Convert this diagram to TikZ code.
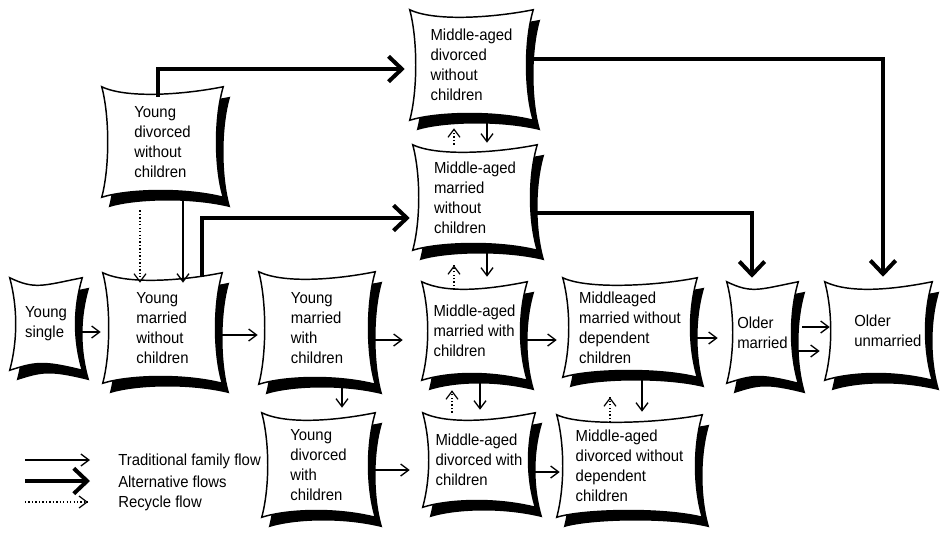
\documentclass[tikz,border=0pt]{standalone}
\usepackage{fontspec}
\setmainfont{Liberation Sans}[FakeStretch=0.93]
\usetikzlibrary{arrows.meta,calc,decorations.markings}
\pgfdeclarelayer{bg}
\pgfsetlayers{bg,main}
\newcommand{\pillowoutline}[1]{(#1.north west) .. controls +(25,12) and +(-40,8) .. (#1.north east) .. controls +(-9,30) and +(-9,-30) .. (#1.south east) .. controls +(-40,-10) and +(25,-8) .. (#1.south west) .. controls +(8,-30) and +(8,30) .. (#1.north west) -- cycle}
\newcommand{\pillow}[1]{%
  \fill[black, transform canvas={shift={(7,10)}}] \pillowoutline{#1};
  \draw[line width=1.1pt, fill=white] \pillowoutline{#1};
}
\tikzset{
  pbox/.style={rectangle, inner sep=0pt, align=left, font=\fontsize{12pt}{15pt}\selectfont},
  legtext/.style={anchor=west, inner sep=0pt, font=\fontsize{12pt}{15pt}\selectfont},
  trad/.style={line width=1pt, -{Straight Barb[length=6pt,width=9pt]}},
  recyc/.style={line width=0.9pt, dash pattern=on 1pt off 1.6pt,
    postaction={decorate, decoration={markings,
      mark=at position 1 with {\pgfsetdash{}{0pt}\arrow[line width=0.9pt]{Straight Barb[length=6pt,width=9pt]}}}}},
  alter/.style={line width=3pt, -{Straight Barb[length=10pt,width=19pt]}},
}
\begin{document}
\begin{tikzpicture}[x=0.75pt,y=-0.75pt]
\useasboundingbox (0,0) rectangle (942,533);
\begin{pgfonlayer}{bg}
\fill[white] (0,0) rectangle (942,533);
\end{pgfonlayer}

% nodes
\node[pbox, minimum width=90.75pt, minimum height=82.5pt] (YDW) at (162.5,142) {Young\\divorced\\without\\children};
\node[pbox, minimum width=54pt, minimum height=69pt] (YS) at (46,324) {Young\\single};
\node[pbox, minimum width=89.25pt, minimum height=82.5pt] (YMW) at (162.5,328) {Young\\married\\without\\children};
\node[pbox, minimum width=87pt, minimum height=84pt] (YMC) at (317,328) {Young\\married\\with\\children};
\node[pbox, minimum width=84.75pt, minimum height=78pt] (YDC) at (318.5,465) {Young\\divorced\\with\\children};
\node[pbox, minimum width=78.75pt, minimum height=73.5pt] (MMC) at (474.5,331) {Middle-aged\\married with\\children};
\node[pbox, minimum width=84pt, minimum height=70.5pt] (MDC) at (479,460) {Middle-aged\\divorced with\\children};
\node[pbox, minimum width=100.5pt, minimum height=74.25pt] (MMWD) at (630,327.5) {Middleaged\\married without\\dependent\\children};
\node[pbox, minimum width=108.75pt, minimum height=76.5pt] (MDWD) at (629.5,466) {Middle-aged\\divorced without\\dependent\\children};
\node[pbox, minimum width=53.25pt, minimum height=75.75pt] (OM) at (762.5,332.5) {Older\\married};
\node[pbox, minimum width=80.25pt, minimum height=73.5pt] (OU) at (878.5,331) {\hspace*{14pt}Older\\\hspace*{14pt}unmarried};
\node[pbox, minimum width=92.25pt, minimum height=82.5pt] (MDWO) at (471.5,65) {Middle-aged\\divorced\\without\\children};
\node[pbox, minimum width=93pt, minimum height=78.75pt] (MMWO) at (475,197.5) {Middle-aged\\married\\without\\children};

\begin{pgfonlayer}{bg}
\foreach \n in {YDW,YS,YMW,YMC,YDC,MMC,MDC,MMWD,MDWD,OM,OU,MDWO,MMWO}{\pillow{\n}}
\end{pgfonlayer}

% traditional flows
\draw[trad] ($(YS.east)+(0,8)$) -- ($(YMW.west)+(-2,4)$);
\draw[trad] ($(YMW.east)+(-3,7)$) -- ($(YMC.west)+(-1,7)$);
\draw[trad] ($(YMC.east)+(-4,12)$) -- ($(MMC.west)+(-19,9)$);
\draw[trad] ($(MMC.east)+(-5,9)$) -- ($(MMWD.west)+(-6,12.5)$);
\draw[trad] ($(MMWD.east)+(0,10.5)$) -- ($(OM.west)+(-9,5.5)$);
\draw[trad] ($(OM.east)+(4,-5.5)$) -- ($(OU.west)+(5,-4)$);
\draw[trad] ($(OM.east)+(-1,18.5)$) -- ($(OU.west)+(-5,20)$);
\draw[trad] ($(YMC.south)+(25,1)$) -- ($(YDC.north)+(23.5,-5)$);
\draw[trad] ($(YDC.east)+(0,5)$) -- ($(MDC.west)+(-13,10)$);
\draw[trad] ($(MDC.east)+(0,12)$) -- ($(MDWD.west)+(3,6)$);
\draw[trad] ($(MMC.south)+(5.5,0)$) -- ($(MDC.north)+(1,-3)$);
\draw[trad] ($(MMWD.south)+(12,3)$) -- ($(MDWD.north)+(12.5,-3)$);
\draw[trad] ($(MDWO.south)+(15.5,0)$) -- ($(MMWO.north)+(12,-2)$);
\draw[trad] ($(MMWO.south)+(12,0)$) -- ($(MMC.north)+(12.5,-5)$);
\draw[trad] ($(YDW.south)+(20.5,3)$) -- ($(YMW.north)+(20.5,10)$);

% recycle flows
\draw[recyc] ($(YDW.south)+(-22.5,13)$) -- ($(YMW.north)+(-22.5,10)$);
\draw[recyc] ($(MMWO.north)+(-21,0)$) -- ($(MDWO.south)+(-17.5,8)$);
\draw[recyc] ($(MMC.north)+(-20.5,8)$) -- ($(MMWO.south)+(-21,15)$);
\draw[recyc] ($(MDC.north)+(-27,0)$) -- ($(MMC.south)+(-22.5,10)$);
\draw[recyc] ($(MDWD.north)+(-19.5,8)$) -- ($(MMWD.south)+(-20,20)$);

% alternative flows
\draw[alter] ($(YDW.north)+(-4.5,10)$) |- ($(MDWO.west)+(-5,4)$);
\draw[alter] ($(YMW.north)+(39.5,4)$) |- ($(MMWO.west)+(-3,20.5)$);
\draw[alter] ($(MDWO.east)+(0,-6)$) -| ($(OU.north)+(4.5,-5)$);
\draw[alter] ($(MMWO.east)+(0,15.5)$) -| ($(OM.north)+(-10.5,-4)$);

% legend
\coordinate (L1s) at (25,460); \coordinate (L1e) at (90,460);
\coordinate (L2s) at (25,481); \coordinate (L2e) at (90,481);
\coordinate (L3s) at (25,502); \coordinate (L3e) at (88,502);
\draw[trad] (L1s) -- (L1e);
\draw[alter] (L2s) -- (L2e);
\draw[recyc] (L3s) -- (L3e);
\node[legtext] (leg1) at (118,461) {Traditional family flow};
\node[legtext] (leg2) at (118,482) {Alternative flows};
\node[legtext] (leg3) at (118,503) {Recycle flow};
\end{tikzpicture}
\end{document}
